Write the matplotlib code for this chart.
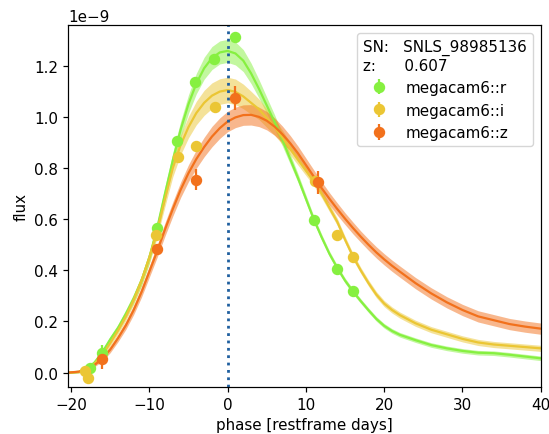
import matplotlib
matplotlib.use('Agg')
import matplotlib.pyplot as plt
import numpy as np

plt.rcParams.update({"font.size": 10.9, "axes.linewidth": 0.87,
                     "xtick.major.size": 3.8, "ytick.major.size": 3.8,
                     "xtick.major.width": 0.87, "ytick.major.width": 0.87,
                     "legend.fontsize": 10.9, "legend.title_fontsize": 10.9})

SCALE = 1e-9
C_R, C_I, C_Z = "#86f040", "#ebc634", "#f2711c"

# observations (flux in units of 1e-9)
r_phase = [-17.6, -16.0, -9.0, -6.5, -4.2, -1.7, 1.0, 11.0, 14.0, 16.0]
r_flux = [0.02, 0.077, 0.565, 0.907, 1.138, 1.227, 1.314, 0.598, 0.406, 0.318]
r_err = [0.012, 0.03, 0.015, 0.015, 0.015, 0.015, 0.015, 0.012, 0.012, 0.012]

i_phase = [-18.2, -17.8, -9.1, -6.4, -4.1, -1.6, 11.2, 14.0, 16.0]
i_flux = [0.005, -0.02, 0.539, 0.842, 0.887, 1.04, 0.75, 0.539, 0.452]
i_err = [0.012, 0.012, 0.015, 0.015, 0.015, 0.015, 0.015, 0.012, 0.012]

z_phase = [-16.0, -9.0, -4.0, 1.0, 11.5]
z_flux = [0.055, 0.484, 0.755, 1.073, 0.745]
z_err = [0.04, 0.02, 0.042, 0.046, 0.045]

# model light curves
m_phase = [-20.4, -19, -18, -17, -16, -15, -14, -13, -12, -11, -10,
           -9, -8, -7, -6, -5, -4, -3, -2, -1,
           0, 1, 2, 3, 4, 5, 6, 7, 8,
           9, 10, 11, 12, 13, 14, 15, 16,
           17, 18, 19, 20, 21, 22,
           24, 26, 28, 30, 32, 34, 36, 38, 40]
m_r = [0.0, 0.003, 0.015, 0.04, 0.08, 0.13, 0.175, 0.23, 0.29, 0.36, 0.45,
       0.565, 0.70, 0.83, 0.95, 1.05, 1.13, 1.19, 1.23, 1.252,
       1.258, 1.248, 1.22, 1.17, 1.11, 1.045, 0.98, 0.91, 0.835,
       0.76, 0.68, 0.60, 0.53, 0.465, 0.41, 0.36, 0.318,
       0.28, 0.244, 0.21, 0.183, 0.163, 0.148,
       0.127, 0.108, 0.095, 0.085, 0.078, 0.076, 0.07, 0.063, 0.056]
m_r_err = [0.003, 0.004, 0.005, 0.007, 0.01, 0.012, 0.014, 0.016, 0.018, 0.02, 0.022,
           0.025, 0.028, 0.03, 0.033, 0.036, 0.04, 0.043, 0.045, 0.045,
           0.045, 0.045, 0.043, 0.04, 0.036, 0.032, 0.028, 0.024, 0.02,
           0.017, 0.015, 0.013, 0.012, 0.011, 0.01, 0.01, 0.01,
           0.009, 0.009, 0.009, 0.009, 0.009, 0.009,
           0.009, 0.009, 0.009, 0.009, 0.009, 0.009, 0.009, 0.009, 0.009]
m_i = [0.0, 0.003, 0.012, 0.035, 0.07, 0.115, 0.165, 0.22, 0.285, 0.36, 0.45,
       0.555, 0.68, 0.80, 0.89, 0.96, 1.015, 1.055, 1.083, 1.099,
       1.105, 1.098, 1.08, 1.055, 1.03, 0.995, 0.96, 0.92, 0.875,
       0.832, 0.79, 0.748, 0.70, 0.645, 0.59, 0.52, 0.455,
       0.40, 0.35, 0.305, 0.27, 0.245, 0.225,
       0.193, 0.168, 0.15, 0.132, 0.118, 0.11, 0.105, 0.10, 0.095]
m_i_err = [0.003, 0.004, 0.005, 0.007, 0.01, 0.012, 0.014, 0.016, 0.018, 0.02, 0.023,
           0.026, 0.03, 0.034, 0.038, 0.042, 0.046, 0.049, 0.05, 0.05,
           0.05, 0.05, 0.048, 0.045, 0.04, 0.036, 0.032, 0.028, 0.024,
           0.021, 0.019, 0.017, 0.016, 0.015, 0.014, 0.013, 0.013,
           0.012, 0.012, 0.012, 0.012, 0.012, 0.012,
           0.012, 0.012, 0.012, 0.012, 0.012, 0.012, 0.012, 0.012, 0.012]
m_z = [0.0, 0.004, 0.015, 0.03, 0.055, 0.09, 0.135, 0.185, 0.245, 0.315, 0.395,
       0.475, 0.56, 0.64, 0.715, 0.78, 0.835, 0.882, 0.923, 0.956,
       0.982, 0.998, 1.007, 1.008, 1.0, 0.985, 0.962, 0.932, 0.897,
       0.857, 0.812, 0.767, 0.722, 0.68, 0.64, 0.602, 0.566,
       0.532, 0.50, 0.47, 0.443, 0.418, 0.395,
       0.35, 0.31, 0.275, 0.245, 0.22, 0.205, 0.19, 0.18, 0.172]
m_z_err = [0.003, 0.004, 0.005, 0.007, 0.01, 0.012, 0.014, 0.016, 0.018, 0.02, 0.022,
           0.024, 0.026, 0.028, 0.03, 0.033, 0.036, 0.038, 0.04, 0.04,
           0.04, 0.04, 0.04, 0.04, 0.038, 0.036, 0.034, 0.032, 0.03,
           0.028, 0.027, 0.026, 0.025, 0.024, 0.024, 0.023, 0.023,
           0.022, 0.022, 0.022, 0.022, 0.022, 0.022,
           0.022, 0.022, 0.022, 0.022, 0.022, 0.022, 0.022, 0.022, 0.022]

fig = plt.figure(figsize=(5.49, 4.35), dpi=100)
ax = fig.add_axes([0.1244, 0.1087, 0.8606, 0.8308])

ph = np.array(m_phase)
bands = [("megacam6::r", C_R, r_phase, r_flux, r_err, m_r, m_r_err),
         ("megacam6::i", C_I, i_phase, i_flux, i_err, m_i, m_i_err),
         ("megacam6::z", C_Z, z_phase, z_flux, z_err, m_z, m_z_err)]
for name, c, p, f, e, mf, me in bands:
    mf, me = np.array(mf), np.array(me)
    ax.fill_between(ph, (mf - me) * SCALE, (mf + me) * SCALE, color=c, alpha=0.5, lw=0)
    ax.plot(ph, mf * SCALE, color=c, lw=1.6)
for name, c, p, f, e, mf, me in bands:
    ax.errorbar(p, np.array(f) * SCALE, yerr=np.array(e) * SCALE, fmt="o", color=c,
                ms=7.2, elinewidth=1.6, label=name, zorder=5)

ax.axvline(0, color="#1f5f9f", ls=":", lw=2)
ax.set_xlim(-20.35, 40)
ax.set_ylim(-0.055 * SCALE, 1.358 * SCALE)
ax.set_xlabel("phase [restframe days]")
ax.set_ylabel("flux")
ax.legend(loc="upper right", title="SN:   SNLS_98985136\nz:      0.607",
          alignment="left")

fig.savefig("out.png", dpi=100)
